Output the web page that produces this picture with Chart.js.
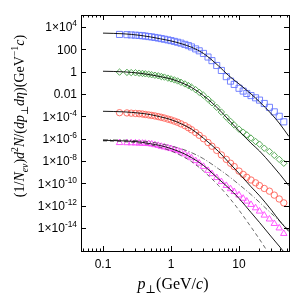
<!DOCTYPE html>
<html><head><meta charset="utf-8">
<script src="https://cdn.jsdelivr.net/npm/chart.js@4/dist/chart.umd.min.js"></script>
<style>html,body{margin:0;padding:0;background:#fff;overflow:hidden}#wrap{width:299px;height:297px}</style>
</head><body><div id="wrap"><canvas id="c" width="299" height="297"></canvas></div>
<script>
// ---- data ----
const pT = [0.175,0.225,0.26,0.3,0.34,0.38,0.42,0.47,0.52,0.58,0.65,0.72,0.8,0.9,1.0,1.12,1.25,1.4,1.6,1.8,2.0,2.3,2.6,3.0,3.5,4.0,4.7,5.5,6.5,7.5,8.5,10,11.5,13,15,17.5,20,23.5,28,33,39,45.5];
const blueSquares = [2.1e3,2.0e3,1.9e3,1.8e3,1.7e3,1.6e3,1.5e3,1.35e3,1.26e3,1.12e3,1.0e3,890,780,680,590,500,420,350,270,210,160,107,72,42,20,9.5,3.5,1.26,0.35,0.14,0.071,0.032,0.018,0.011,0.0071,0.0045,0.0028,0.0014,6.3e-4,2.5e-4,1.0e-4,3.2e-5];
const greenDiamonds = [0.89,0.85,0.81,0.78,0.72,0.68,0.63,0.58,0.52,0.47,0.42,0.36,0.32,0.26,0.22,0.18,0.145,0.11,0.079,0.056,0.040,0.024,0.014,0.0076,0.0034,0.0016,6.3e-4,2.4e-4,8.3e-5,3.5e-5,1.66e-5,7.1e-6,3.8e-6,2.2e-6,1.12e-6,5.6e-7,3.2e-7,1.4e-7,7.1e-8,3.2e-8,1.4e-8,6.3e-9];
const redCircles = [2.1e-4,2.0e-4,1.9e-4,1.8e-4,1.7e-4,1.6e-4,1.45e-4,1.32e-4,1.2e-4,1.07e-4,9.3e-5,8.1e-5,6.9e-5,5.6e-5,4.7e-5,3.7e-5,2.9e-5,2.1e-5,1.45e-5,9.5e-6,6.3e-6,3.5e-6,2.0e-6,1.0e-6,4.5e-7,2.1e-7,8.9e-8,3.5e-8,1.4e-8,6.3e-9,3.2e-9,1.26e-9,6.3e-10,3.5e-10,2.0e-10,1.12e-10,6.3e-11,3.5e-11,2.0e-11,8.9e-12,4.0e-12,1.8e-12];
const magentaTriangles = [4.3e-7,4.2e-7,4.1e-7,4.0e-7,3.9e-7,3.8e-7,3.7e-7,3.5e-7,3.2e-7,2.8e-7,2.4e-7,2.0e-7,1.74e-7,1.48e-7,1.26e-7,1.02e-7,8.3e-8,6.3e-8,4.2e-8,2.8e-8,1.9e-8,1.05e-8,6.3e-9,3.2e-9,1.4e-9,7.1e-10,3.2e-10,1.4e-10,6.3e-11,3.2e-11,1.8e-11,8.9e-12,4.5e-12,2.5e-12,1.26e-12,6.3e-13,3.2e-13,1.4e-13,6.3e-14,2.5e-14,1.0e-14,3.2e-15];

const curveP = [0.1,0.2,0.35,0.5,0.7,1,1.5,2,3,5,7,10,15,20,30,40,54];
const blueFit = [2.75e3,2.4e3,1.74e3,1.26e3,850,550,280,150,42,3.2,0.45,0.079,0.01,0.002,1.6e-4,2.0e-5,1.6e-6];
const greenFit = [1.07,0.95,0.71,0.52,0.35,0.22,0.089,0.038,0.0071,4.5e-4,5.0e-5,5.0e-6,4.0e-7,7.9e-8,5.0e-9,6.3e-10,6.3e-11];
const redFit = [2.8e-4,2.5e-4,1.9e-4,1.4e-4,8.9e-5,5.0e-5,1.8e-5,7.1e-6,1.1e-6,7.1e-8,7.9e-9,7.9e-10,5.0e-11,7.9e-12,4.0e-13,4.0e-14,5.0e-15];
const magentaFit = [7.1e-7,6.3e-7,5.0e-7,3.5e-7,2.4e-7,1.3e-7,5.0e-8,2.0e-8,4.0e-9,2.5e-10,4.0e-11,4.5e-12,2.5e-13,3.2e-14,1.6e-15,2.0e-16,2.0e-17];
const magentaUpper = [7.9e-7,7.4e-7,6.3e-7,5.0e-7,3.5e-7,2.2e-7,1.1e-7,5.6e-8,1.6e-8,2.0e-9,4.5e-10,7.9e-11,1.0e-11,2.0e-12,2.0e-13,4.0e-14,6.3e-15];
const magentaLower = [6.3e-7,5.4e-7,4.0e-7,2.8e-7,1.66e-7,7.9e-8,2.5e-8,8.9e-9,1.26e-9,6.3e-11,6.3e-12,4.0e-13,1.26e-14,1.0e-15,2.5e-17,3.2e-18,3.2e-19];

const xTickValues = [0.1, 1, 10];
const xTickLabels = ['0.1', '1', '10'];
const yTickValues = [1e4,1e2,1,1e-2,1e-4,1e-6,1e-8,1e-10,1e-12,1e-14];
const yTickLabels = ['1×10^4','100','1','0.01','1×10^-4','1×10^-6','1×10^-8','1×10^-10','1×10^-12','1×10^-14'];

// ---- build datasets ----
const pts = (xs, ys) => xs.map((x, i) => ({x, y: ys[i]}));
function markers(ys, style, color, r) {
  return {type:'scatter', data: pts(pT, ys), showLine:false, pointStyle: style,
    pointRadius: r, pointBorderColor: color, pointBackgroundColor: 'rgba(0,0,0,0)',
    pointBorderWidth: 0.9, pointHoverRadius: r, order: 2};
}
function curve(ys, dash, color, w) {
  return {type:'scatter', data: pts(curveP, ys), showLine:true, pointRadius:0,
    borderColor: color, borderWidth: w, borderDash: dash, tension: 0.4, cubicInterpolationMode:'monotone',
    clip: 0, fill:false, order: 1};
}

const SANS = '"Liberation Sans", Arial, sans-serif';
const SERIF = '"Liberation Serif", "DejaVu Serif", serif';

function drawRich(ctx, segs, size, family) {
  let w = 0;
  const fontOf = s => (s.i ? 'italic ' : '') + ((s.sub||s.sup) ? size*0.7 : size) + 'px ' + family;
  for (const s of segs) { ctx.font = fontOf(s); w += ctx.measureText(s.t).width; }
  return {w, draw(x, y) {
    let cx = x;
    for (const s of segs) {
      ctx.font = fontOf(s);
      const dy = s.sub ? size*0.28 : s.sup ? -size*0.42 : 0;
      ctx.fillText(s.t, cx, y + dy);
      cx += ctx.measureText(s.t).width;
    }
  }};
}

const framePlugin = {
  id: 'frame',
  afterDatasetsDraw(chart) {
    const ctx = chart.ctx, a = chart.chartArea;
    const xs = chart.scales.x, ys = chart.scales.y;
    ctx.save();
    ctx.strokeStyle = '#000'; ctx.lineWidth = 1;
    ctx.strokeRect(Math.round(a.left)+0.5, Math.round(a.top)+0.5, Math.round(a.right-a.left), Math.round(a.bottom-a.top));
    ctx.beginPath();
    const xmin = xs.min, xmax = xs.max;
    for (let d = -2; d <= 2; d++) {
      for (let m = 1; m <= 9; m++) {
        const v = m * Math.pow(10, d);
        if (v < xmin || v > xmax) continue;
        const px = Math.round(xs.getPixelForValue(v)) + 0.5;
        const len = m === 1 ? 5 : 2.5;
        ctx.moveTo(px, a.bottom); ctx.lineTo(px, a.bottom - len);
        ctx.moveTo(px, a.top); ctx.lineTo(px, a.top + len);
      }
    }
    for (const v of yTickValues) {
      const py = Math.round(ys.getPixelForValue(v)) + 0.5;
      ctx.moveTo(a.left, py); ctx.lineTo(a.left + 5, py);
      ctx.moveTo(a.right, py); ctx.lineTo(a.right - 5, py);
    }
    ctx.stroke();
    ctx.fillStyle = '#000';
    ctx.textBaseline = 'alphabetic';
    const fs = 12;
    xTickValues.forEach((v, i) => {
      ctx.font = fs + 'px ' + SANS;
      ctx.textAlign = 'center';
      ctx.fillText(xTickLabels[i], xs.getPixelForValue(v), a.bottom + 17);
    });
    ctx.textAlign = 'left';
    yTickValues.forEach((v, i) => {
      const parts = yTickLabels[i].split('^');
      const segs = [{t: parts[0]}];
      if (parts[1]) segs.push({t: parts[1], sup: true});
      const r = drawRich(ctx, segs, fs, SANS);
      r.draw(a.left - 4 - r.w, ys.getPixelForValue(v) + 4.3);
    });
    const xt = drawRich(ctx, [{t:'p', i:true}, {t:'⊥', sub:true}, {t:'(GeV/'}, {t:'c', i:true}, {t:')'}], 16, SERIF);
    xt.draw(173 - xt.w/2, 289);
    const yt = drawRich(ctx, [{t:'(1/'}, {t:'N', i:true}, {t:'ev', i:true, sub:true}, {t:')'}, {t:'d', i:true}, {t:'2', sup:true},
      {t:'N', i:true}, {t:'/('}, {t:'dp', i:true}, {t:'⊥', sub:true}, {t:'dη', i:true}, {t:')(GeV'}, {t:'−1', sup:true}, {t:'c', i:true}, {t:')'}], 14, SERIF);
    ctx.translate(24, 116);
    ctx.rotate(-Math.PI/2);
    yt.draw(-yt.w/2, 0);
    ctx.restore();
  }
};

new Chart(document.getElementById('c'), {
  data: {
    datasets: [
      curve(blueFit, [], '#000', 0.9),
      curve(greenFit, [], '#000', 0.9),
      curve(redFit, [], '#000', 0.9),
      curve(magentaFit, [], '#000', 0.9),
      curve(magentaUpper, [5,2,1,2], '#444', 0.8),
      curve(magentaLower, [4,3], '#444', 0.8),
      markers(blueSquares, 'rect', '#6677ff', 4.3),
      markers(greenDiamonds, 'rectRot', '#45a045', 3.2),
      markers(redCircles, 'circle', '#ff6258', 3.2),
      markers(magentaTriangles, 'triangle', '#ff44ff', 3.7)
    ]
  },
  options: {
    responsive: false, animation: false, devicePixelRatio: 1,
    layout: {padding: {left: 81, right: 10, top: 15, bottom: 46}},
    plugins: {legend: {display:false}, tooltip: {enabled:false}},
    events: [],
    scales: {
      x: {type:'logarithmic', min: 0.0475, max: 54.3, display: false},
      y: {type:'logarithmic', min: 8.9e-17, max: 1.15e5, display: false}
    }
  },
  plugins: [framePlugin]
});
</script>
</body></html>
